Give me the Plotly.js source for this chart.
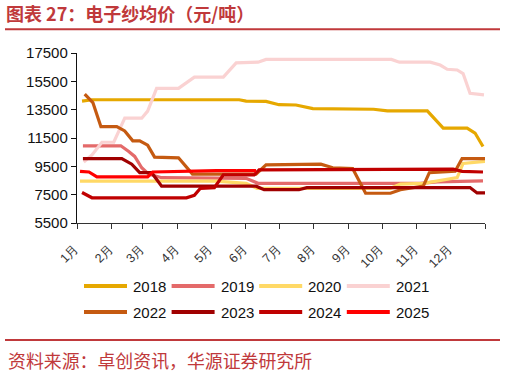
<!DOCTYPE html>
<html>
<head>
<meta charset="utf-8">
<script src="https://cdn.plot.ly/plotly-3.0.1.min.js"></script>
<style>
html,body{margin:0;padding:0;background:#fff;}
#chart{width:506px;height:374px;}
</style>
</head>
<body>
<div id="chart"></div>
<script>
// ---- data (x = day of year, y = 元/吨) ----
const seriesNames = ['2018','2019','2020','2021','2022','2023','2024','2025'];
const monthLabels = ['1月','2月','3月','4月','5月','6月','7月','8月','9月','10月','11月','12月',''];
const monthStartDays = [0,31,59,90,120,151,181,212,243,273,304,334,365];
const yTickVals = [5500,7500,9500,11500,13500,15500,17500];
const yTickText = ['5500','7500','9500','11500','13500','15500','17500'];

const days2018 = [4.5,13.4,145.1,151.3,169.1,180.7,195.9,211.0,265.3,277.7,313.4,327.6,349.0,356.1,363.2];
const vals2018 = [14100,14200,14200,14100,14080,13850,13830,13570,13530,13420,13420,12200,12200,11850,10900];

const days2019 = [5.3,39.2,46.3,51.6,57.9,64.1,75.7,151.3,162.0,307.1,322.3,363.2];
const vals2019 = [10950,10950,10550,10200,9400,8950,8700,8650,8300,8300,8400,8480];

const days2020 = [2.7,124.6,151.3,161.1,280.4,289.3,309.8,330.3,340.1,345.4,365];
const vals2020 = [8450,8450,8300,7950,7950,8250,8300,8600,8700,9700,9850];

const days2021 = [6.0,13.4,22.3,32.9,42.7,57.9,63.2,71.2,90.8,105.0,130.9,142.4,162.0,169.1,281.3,288.4,316.0,324.9,331.2,340.1,345.4,351.6,364.1];
const vals2021 = [9800,10300,11200,11200,12900,12900,13400,15000,15000,15800,15800,16800,16850,17050,17050,16850,16850,16650,16350,16300,16050,14650,14550];

const days2022 = [6.9,14.2,21.4,35.6,42.7,49.9,56.1,63.2,69.4,81.0,90.8,103.3,160.2,169.1,218.1,228.8,246.6,258.2,280.4,289.3,309.8,315.2,338.3,344.5,365];
const vals2022 = [14600,14000,12300,12300,12000,11300,11300,11000,10150,10150,10100,8950,8950,9600,9650,9400,9350,7600,7600,7850,8100,9050,9150,10050,10050];

const days2023 = [5.3,40.1,49.0,56.1,66.8,75.7,160.2,167.4,198.5,205.6,351.6,357.9,365];
const vals2023 = [10050,10050,9650,9050,9050,8100,8100,7850,7850,8000,8000,7620,7620];

const days2024 = [4.5,13.4,97.9,105.0,110.4,122.9,130.9,158.5,162.9,336.5,344.5,363.2];
const vals2024 = [7650,7280,7280,7450,7950,8000,8900,8900,9250,9300,9150,9100];

const days2025 = [2.7,10.7,17.8,63.2,67.7,124.6,160.2];
const vals2025 = [9150,9100,8750,8750,9100,9200,9200];

const seriesDays = [days2018,days2019,days2020,days2021,days2022,days2023,days2024,days2025];
const seriesVals = [vals2018,vals2019,vals2020,vals2021,vals2022,vals2023,vals2024,vals2025];
const seriesColors = ['#E6A800','#E46A6A','#FFD966','#FAD2D2','#C55A11','#A00000','#C00000','#FF0000'];

// ---- geometry ----
const W = 506, H = 374;
const M = {l:77, r:21, t:53, b:151};
const PW = W - M.l - M.r, PH = H - M.t - M.b;
const px = x => (x - M.l) / PW;
const py = y => (H - M.b - y) / PH;

const traces = seriesNames.map((n,i) => ({
  type:'scatter', mode:'lines', name:n,
  x: seriesDays[i], y: seriesVals[i],
  line:{color:seriesColors[i], width:3.2},
  hoverinfo:'skip', showlegend:false
}));

const shapes = [
  {type:'line', xref:'paper', yref:'paper', x0:px(5), x1:px(500), y0:py(29.3), y1:py(29.3), line:{color:'#C0393B', width:2}},
  {type:'line', xref:'paper', yref:'paper', x0:px(5), x1:px(500), y0:py(340), y1:py(340), line:{color:'#C0393B', width:2}}
];
const annotations = [
  {xref:'paper', yref:'paper', x:px(6), y:py(360), xanchor:'left', yanchor:'middle', showarrow:false,
   text:'资料来源：卓创资讯，华源证券研究所', font:{family:'Noto Sans CJK SC', size:17.9, color:'#C0393B'}}
];
// manual legend
seriesNames.forEach((n,i) => {
  const col = i % 4, row = Math.floor(i/4);
  const lx = 84 + col*87.6, ly = 286 + row*26;
  shapes.push({type:'line', xref:'paper', yref:'paper', x0:px(lx), x1:px(lx+43), y0:py(ly), y1:py(ly),
    line:{color:seriesColors[i], width:4}});
  annotations.push({xref:'paper', yref:'paper', x:px(lx+47), y:py(ly), xanchor:'left', yanchor:'middle',
    showarrow:false, text:n, font:{family:'Arial, Liberation Sans', size:15, color:'#111'}});
});

const layout = {
  width:W, height:H, margin:M,
  paper_bgcolor:'#fff', plot_bgcolor:'#fff',
  title:{text:'<b>图表 27：电子纱均价（元/吨）</b>', x:6/W, xanchor:'left', y:1-15/H, yanchor:'middle',
    font:{family:'Noto Sans CJK SC', size:18, color:'#C0393B'}},
  xaxis:{range:[0,365], tickmode:'array', tickvals:monthStartDays, ticktext:monthLabels,
    tickangle:-45, ticks:'outside', ticklen:5, tickcolor:'#333', showline:true, linecolor:'#333', linewidth:1.2,
    ticklabelstandoff:7, ticklabelshift:-2,
    showgrid:false, zeroline:false, tickfont:{family:'Arial, Liberation Sans', size:12.5, color:'#333'}},
  yaxis:{range:[5500,17500], tickmode:'array', tickvals:yTickVals, ticktext:yTickText,
    ticks:'outside', ticklen:5, tickcolor:'#111', showline:true, linecolor:'#111', linewidth:1.2,
    showgrid:false, zeroline:false, tickfont:{family:'Arial, Liberation Sans', size:15, color:'#111'}},
  shapes:shapes, annotations:annotations, showlegend:false
};
Plotly.newPlot('chart', traces, layout, {staticPlot:true, displayModeBar:false});
</script>
</body>
</html>
